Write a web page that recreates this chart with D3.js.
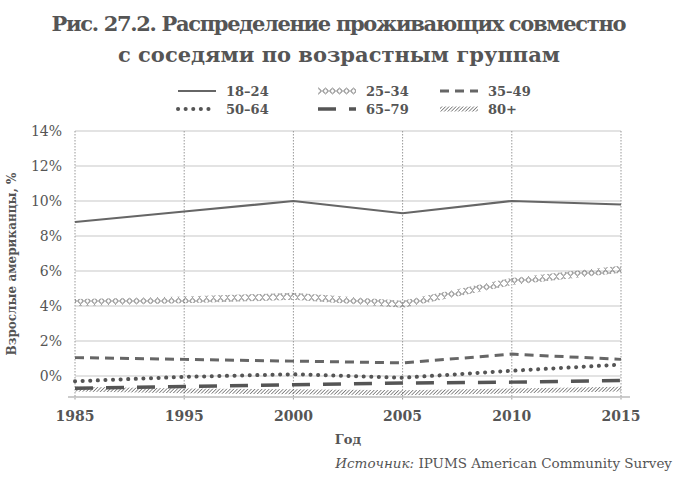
<!DOCTYPE html><html><head><meta charset="utf-8"><script src="https://cdn.jsdelivr.net/npm/d3@7"></script>
<style>body{margin:0;background:#fff}text{font-family:"DejaVu Serif",serif;fill:#555}</style></head><body><svg id="c" width="679" height="482"></svg><script>
const years=["1985","1995","2000","2005","2010","2015"];
const yTicks=[0,2,4,6,8,10,12,14];
const s1824=[8.8,9.4,10.0,9.3,10.0,9.8];
const s2534=[4.2,4.35,4.55,4.1,5.4,6.1];
const s3549=[1.05,0.95,0.85,0.75,1.25,0.95];
const s5064=[-0.3,-0.05,0.1,-0.1,0.3,0.65];
const s6579=[-0.7,-0.6,-0.5,-0.4,-0.35,-0.25];
const s80=[-0.75,-0.85,-0.9,-0.95,-0.85,-0.75];
const series=[
{name:"18–24",v:s1824,st:{stroke:"#666","stroke-width":2.2}},
{name:"25–34",v:s2534,st:{stroke:"url(#dia)","stroke-width":7}},
{name:"35–49",v:s3549,st:{stroke:"#666","stroke-width":3,"stroke-dasharray":"9,6"}},
{name:"50–64",v:s5064,st:{stroke:"#555","stroke-width":4,"stroke-dasharray":"0.1,7.5","stroke-linecap":"round"}},
{name:"65–79",v:s6579,st:{stroke:"#555","stroke-width":3.5,"stroke-dasharray":"18,13"}},
{name:"80+",v:s80,st:{stroke:"url(#hat)","stroke-width":5}}];
const svg=d3.select("#c");
const defs=svg.append("defs");
const p=defs.append("pattern").attr("id","dia").attr("patternUnits","userSpaceOnUse").attr("width",7).attr("height",7).attr("y",-3.5);
p.append("path").attr("d","M0.5,3.5L3.5,0.8L6.5,3.5L3.5,6.2Z").attr("fill","none").attr("stroke","#555").attr("stroke-width",1);
const h=defs.append("pattern").attr("id","hat").attr("patternUnits","userSpaceOnUse").attr("width",2.5).attr("height",2.5).attr("patternTransform","rotate(45)");
h.append("line").attr("x1",0).attr("y1",0).attr("x2",0).attr("y2",2.5).attr("stroke","#555").attr("stroke-width",1.3);
const x=d3.scalePoint().domain(years).range([75,621]);
const y=d3.scaleLinear().domain([-1.2,14]).range([397,131]);
const g=svg.append("g");
g.selectAll(".hg").data(yTicks).join("line").attr("x1",75).attr("x2",621).attr("y1",d=>y(d)).attr("y2",d=>y(d)).attr("stroke","#c8c8c8").attr("stroke-width",1.2);
g.selectAll(".vg").data(years).join("line").attr("x1",d=>x(d)).attr("x2",d=>x(d)).attr("y1",131).attr("y2",400).attr("stroke","#999").attr("stroke-dasharray","1.5,1.5");
g.append("line").attr("x1",68).attr("x2",630).attr("y1",397).attr("y2",397).attr("stroke","#999").attr("stroke-width",1.2);
g.selectAll(".yl").data(yTicks).join("text").attr("x",62).attr("y",d=>y(d)+5).attr("text-anchor","end").attr("font-size",14).text(d=>d+"%");
g.selectAll(".xl").data(years).join("text").attr("x",d=>x(d)).attr("y",421).attr("text-anchor","middle").attr("font-size",14).attr("font-weight","bold").text(d=>d);
const line=d3.line().x((d,i)=>x(years[i])).y(d=>y(d));
series.slice().reverse().forEach(s=>{const pa=g.append("path").attr("d",line(s.v)).attr("fill","none");for(const k in s.st)pa.attr(k,s.st[k]);});
const lx=[178,318,440],ly=[91,109];
series.forEach((s,i)=>{const cx=lx[i%3],cy=ly[Math.floor(i/3)];
const pa=g.append("path").attr("d",`M${cx},${cy}L${cx+38},${cy}`).attr("fill","none");for(const k in s.st)pa.attr(k,s.st[k]);
g.append("text").attr("x",cx+48).attr("y",cy+5).attr("font-size",13).attr("font-weight","bold").text(s.name);});
svg.append("text").attr("x",339).attr("y",31).attr("text-anchor","middle").attr("font-size",21).attr("font-weight","bold").attr("textLength",575).text("Рис. 27.2. Распределение проживающих совместно");
svg.append("text").attr("x",339).attr("y",62).attr("text-anchor","middle").attr("font-size",21).attr("font-weight","bold").text("с соседями по возрастным группам");
svg.append("text").attr("transform","translate(16,264) rotate(-90)").attr("text-anchor","middle").attr("font-size",12).attr("font-weight","bold").text("Взрослые американцы, %");
svg.append("text").attr("x",348).attr("y",444).attr("text-anchor","middle").attr("font-size",13).attr("font-weight","bold").text("Год");
const src=svg.append("text").attr("x",672).attr("y",468).attr("text-anchor","end").attr("font-size",13.5);
src.append("tspan").attr("font-style","italic").text("Источник: ");src.append("tspan").text("IPUMS American Community Survey");
</script></body></html>
